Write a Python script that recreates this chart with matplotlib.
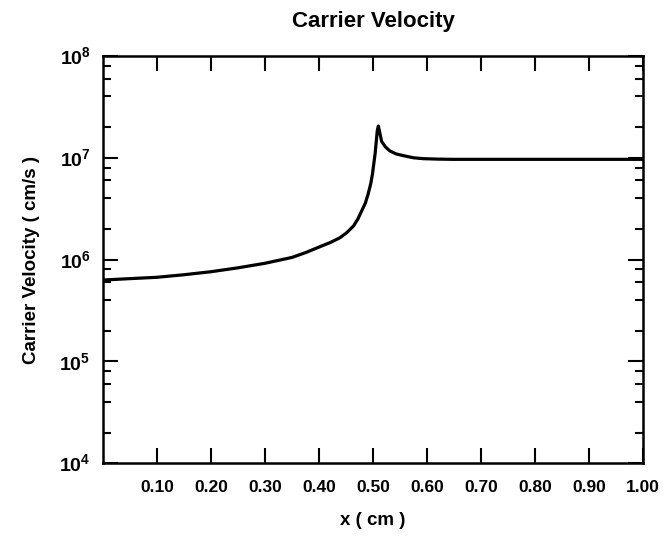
import numpy as np
import matplotlib
matplotlib.use("Agg")
import matplotlib.pyplot as plt
from matplotlib.ticker import FixedLocator, FixedFormatter, LogLocator, NullFormatter

plt.rcParams['font.family'] = 'Liberation Sans'
plt.rcParams['font.weight'] = 'bold'
plt.rcParams['mathtext.fontset'] = 'custom'
plt.rcParams['mathtext.rm'] = 'Liberation Sans:bold'
plt.rcParams['mathtext.bf'] = 'Liberation Sans:bold'

# position along device (cm) and carrier velocity (cm/s)
x_cm = [0.0, 0.05, 0.10, 0.15, 0.20, 0.25, 0.30, 0.35, 0.375, 0.405, 0.422,
        0.439, 0.452, 0.464, 0.472, 0.479, 0.486, 0.491, 0.496, 0.499,
        0.504, 0.508, 0.510, 0.516, 0.523, 0.531, 0.543, 0.556, 0.575,
        0.593, 0.62, 0.648, 0.71, 0.80, 0.90, 1.00]
velocity = [6.3e5, 6.5e5, 6.7e5, 7.1e5, 7.6e5, 8.3e5, 9.2e5, 1.05e6, 1.17e6,
            1.36e6, 1.48e6, 1.64e6, 1.85e6, 2.14e6, 2.5e6, 3.0e6, 3.6e6,
            4.4e6, 5.6e6, 6.9e6, 1.1e7, 1.85e7, 2.05e7, 1.45e7, 1.28e7,
            1.17e7, 1.09e7, 1.05e7, 1.0e7, 9.8e6, 9.7e6, 9.65e6, 9.65e6,
            9.65e6, 9.65e6, 9.65e6]

x_ticks = [0.10, 0.20, 0.30, 0.40, 0.50, 0.60, 0.70, 0.80, 0.90, 1.00]
x_tick_labels = ['0.10', '0.20', '0.30', '0.40', '0.50', '0.60', '0.70',
                 '0.80', '0.90', '1.00']
y_ticks = [1e4, 1e5, 1e6, 1e7, 1e8]
y_tick_labels = [r'$10^4$', r'$10^5$', r'$10^6$', r'$10^7$', r'$10^8$']

fig = plt.figure(figsize=(6.69, 5.38), dpi=100)
ax = fig.add_axes([0.154, 0.139, 0.807, 0.757])

ax.plot(x_cm, velocity, color='black', linewidth=2.3,
        solid_joinstyle='round', solid_capstyle='round')

ax.set_yscale('log')
ax.set_xlim(0, 1.0)
ax.set_ylim(1e4, 1e8)

ax.xaxis.set_major_locator(FixedLocator(x_ticks))
ax.xaxis.set_major_formatter(FixedFormatter(x_tick_labels))
ax.yaxis.set_major_locator(FixedLocator(y_ticks))
ax.yaxis.set_major_formatter(FixedFormatter(y_tick_labels))
ax.yaxis.set_minor_locator(LogLocator(base=10, subs=(2, 4, 6, 8)))
ax.yaxis.set_minor_formatter(NullFormatter())

ax.tick_params(which='both', direction='in', top=True, right=True, width=1.5)
ax.tick_params(axis='x', which='major', length=11, pad=12, labelsize=12.5)
ax.tick_params(axis='y', which='major', length=11, pad=9, labelsize=14)
ax.tick_params(which='minor', length=6)
for lab in ax.get_xticklabels() + ax.get_yticklabels():
    lab.set_fontweight('bold')

for sp in ax.spines.values():
    sp.set_linewidth(1.8)

ax.set_xlabel('x ( cm )', fontsize=13.5, fontweight='bold', labelpad=12)
ax.set_ylabel('Carrier Velocity ( cm/s )', fontsize=13.5, fontweight='bold',
              labelpad=14)
ax.set_title('Carrier Velocity', fontsize=16, fontweight='bold', pad=21)

fig.savefig('out.png', dpi=100)
